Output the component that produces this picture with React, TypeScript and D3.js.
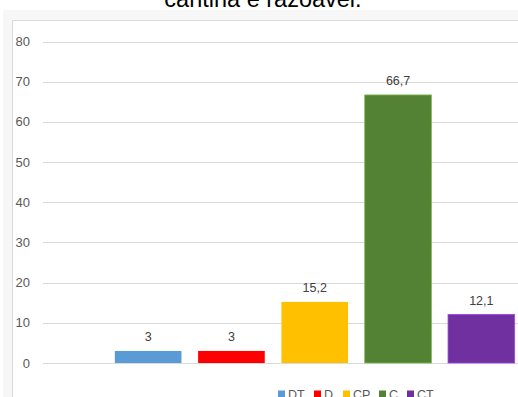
import React from "react";
import * as d3 from "d3";

const categories = ["DT", "D", "CP", "C", "CT"];
const values = [3, 3, 15.2, 66.7, 12.1];
const valueLabels = ["3", "3", "15,2", "66,7", "12,1"];
const colors = ["#5B9BD5", "#FF0000", "#FFC000", "#548235", "#7030A0"];
const yTicks = [0, 10, 20, 30, 40, 50, 60, 70, 80];
const title = "cantina é razoável.";

export default function App() {
  const W = 518, H = 397;
  const y = d3.scaleLinear().domain([0, 80]).range([363, 41.5]);
  const x = d3.scaleBand<string>().domain(categories).range([106.5, 523]).paddingInner(0.2).paddingOuter(0.1);
  const font = "'Liberation Sans', Arial, sans-serif";
  const legendX = [278, 314, 343, 379, 407];
  return (
    <svg width={W} height={H} style={{ position: "absolute", left: 0, top: 0, background: "#fff" }}>
      <rect x={3} y={10} width={W} height={H} fill="#f7f7f7" />
      <rect x={12.5} y={20.5} width={W} height={H} fill="#fff" stroke="#d9d9d9" strokeWidth={1} />
      <text x={263} y={7} textAnchor="middle" fontFamily={font} fontSize={23.5} fill="#000">{title}</text>
      {yTicks.map((t) => (
        <g key={t}>
          <line x1={43} x2={W} y1={Math.round(y(t)) + 0.5} y2={Math.round(y(t)) + 0.5} stroke="#d9d9d9" strokeWidth={1} />
          <text x={30} y={y(t) + 4.5} textAnchor="end" fontFamily={font} fontSize={13} fill="#595959">{t}</text>
        </g>
      ))}
      {categories.map((c, i) => (
        <g key={c}>
          <rect x={x(c)} y={y(values[i])} width={x.bandwidth()} height={y(0) - y(values[i])} fill={colors[i]}
            stroke={i >= 3 ? d3.color(colors[i])!.brighter(1).toString() : "none"} strokeWidth={i >= 3 ? 0.8 : 0} />
          <text x={(x(c) as number) + x.bandwidth() / 2} y={y(values[i]) - 9.5} textAnchor="middle" fontFamily={font} fontSize={12.5} fill="#404040">{valueLabels[i]}</text>
        </g>
      ))}
      {categories.map((c, i) => (
        <g key={"l" + c}>
          <rect x={legendX[i]} y={390.5} width={7} height={7} fill={colors[i]} />
          <text x={legendX[i] + 10} y={398.5} fontFamily={font} fontSize={12.5} fill="#595959">{c}</text>
        </g>
      ))}
    </svg>
  );
}
